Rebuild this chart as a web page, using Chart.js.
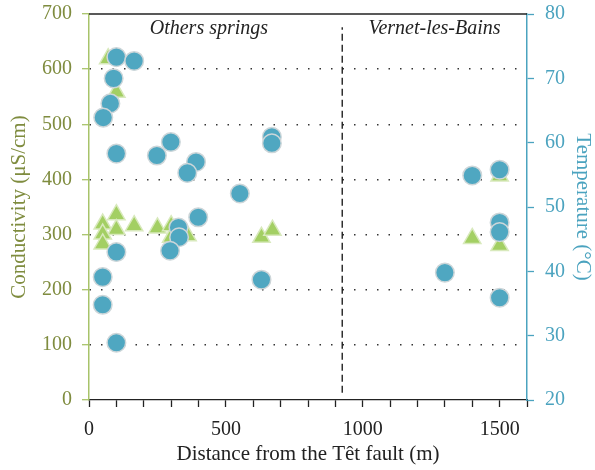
<!DOCTYPE html>
<html lang="en">
<head>
    <meta charset="UTF-8">
    <title>Conductivity and temperature vs distance</title>
    <script src="https://cdn.jsdelivr.net/npm/chart.js"></script>
    <style>
        body { margin: 0; background: #fff; }
        #wrap { width: 595px; height: 470px; }
    </style>
</head>
<body>
    <div id="wrap">
        <canvas id="grafico" width="595" height="470"></canvas>
    </div>

    <script>
        // conductivity samples (triangles, left axis)
        const condDistance = [70, 100, 50, 100, 100, 50, 50, 165, 250, 300, 300, 360, 630, 670, 1400, 1500, 1500];
        const condValue    = [619, 558, 319, 336, 309, 301, 283, 316, 312, 316, 295, 298, 295, 308, 293, 280, 406];

        // temperature samples (circles, right axis)
        const tempDistance = [100, 165, 90, 78, 52, 100, 248, 299, 391, 359, 551, 668, 668, 327, 329, 399, 296, 100, 50, 50, 100, 630, 1400, 1500, 1500, 1500, 1300, 1500];
        const tempValue    = [73.3, 72.7, 70.0, 66.1, 63.9, 58.3, 58.0, 60.1, 57.0, 55.3, 52.1, 60.9, 59.9, 46.8, 45.3, 48.4, 43.2, 43.0, 39.1, 34.8, 28.9, 38.7, 54.9, 55.8, 47.6, 46.1, 39.8, 35.9];

        // boundary between the two zones
        const faultLineX = [925, 925];
        const faultLineY = [13, 676];

        // zone labels: [text, x value, conductivity value]
        const zoneLabels = [
            ['Others springs', 438, 673],
            ['Vernet-les-Bains', 1262, 673]
        ];

        const xTicksLabelled = [0, 500, 1000, 1500];

        const verde = '#7f8c3f';
        const verdeEixo = '#a8c36a';
        const azul = '#4ba3bf';

        function pontos(xs, ys) {
            return xs.map((x, i) => ({ x: x, y: ys[i] }));
        }

        // fixed axis box size, no extra padding from tick labels
        function tamanho(s, w, h) {
            if (w) s.width = w;
            if (h) s.height = h;
            s.paddingTop = 0;
            s.paddingBottom = 0;
            s.paddingLeft = 0;
            s.paddingRight = 0;
        }

        Chart.defaults.font.family = "'Liberation Serif', 'DejaVu Serif', serif";
        Chart.defaults.font.size = 20;

        // top frame line + zone labels
        const extras = {
            id: 'extras',
            afterDatasetsDraw(chart) {
                const { ctx, chartArea } = chart;
                ctx.save();
                ctx.strokeStyle = '#222';
                ctx.lineWidth = 1.3;
                ctx.beginPath();
                ctx.moveTo(chartArea.left, chartArea.top);
                ctx.lineTo(chartArea.right, chartArea.top);
                ctx.stroke();

                ctx.fillStyle = '#222';
                ctx.font = "italic 20px 'Liberation Serif', serif";
                ctx.textAlign = 'center';
                ctx.textBaseline = 'middle';
                zoneLabels.forEach(l => {
                    ctx.fillText(l[0], chart.scales.x.getPixelForValue(l[1]), chart.scales.y.getPixelForValue(l[2]));
                });
                ctx.restore();
            }
        };

        new Chart(document.getElementById('grafico'), {
            type: 'scatter',
            data: {
                datasets: [
                    {
                        label: 'Temperature',
                        data: pontos(tempDistance, tempValue),
                        yAxisID: 'y1',
                        pointStyle: 'circle',
                        pointRadius: 9.3,
                        pointBackgroundColor: '#4fa7c1',
                        pointBorderColor: '#cdd6d9',
                        pointBorderWidth: 1.5,
                        order: 0
                    },
                    {
                        label: 'Conductivity',
                        data: pontos(condDistance, condValue),
                        yAxisID: 'y',
                        pointStyle: 'triangle',
                        pointRadius: 10,
                        pointBackgroundColor: '#a3cf63',
                        pointBorderColor: '#d8e9bc',
                        pointBorderWidth: 1.5,
                        order: 1
                    },
                    {
                        label: 'limite',
                        data: pontos(faultLineX, faultLineY),
                        yAxisID: 'y',
                        showLine: true,
                        pointRadius: 0,
                        borderColor: '#111',
                        borderWidth: 1.3,
                        borderDash: [7, 4],
                        order: 2
                    }
                ]
            },
            options: {
                responsive: false,
                animation: false,
                layout: { padding: { top: 14 } },
                plugins: {
                    legend: { display: false },
                    tooltip: { enabled: false }
                },
                scales: {
                    x: {
                        type: 'linear',
                        min: 0,
                        max: 1600,
                        afterFit: s => tamanho(s, 0, 70),
                        border: { color: '#222', width: 1.3 },
                        grid: { drawOnChartArea: false, tickLength: 7, tickColor: '#222', tickWidth: 1.3 },
                        ticks: {
                            stepSize: 100,
                            autoSkip: false,
                            maxRotation: 0,
                            padding: 11,
                            color: '#222',
                            callback: v => xTicksLabelled.includes(v) ? String(v) : ''
                        },
                        title: {
                            display: true,
                            text: 'Distance from the Têt fault (m)',
                            color: '#222',
                            font: { size: 21 },
                            padding: { top: 0, bottom: 3 }
                        }
                    },
                    y: {
                        position: 'left',
                        min: 0,
                        max: 700,
                        afterFit: s => tamanho(s, 89, 0),
                        border: { color: verdeEixo, width: 1.5, dash: [1.5, 10] },
                        grid: {
                            color: c => (c.tick.value === 0 || c.tick.value === 700) ? 'rgba(0,0,0,0)' : '#333',
                            lineWidth: 1.4,
                            tickLength: 7,
                            tickColor: verdeEixo,
                            tickWidth: 1.3,
                            tickBorderDash: []
                        },
                        ticks: { stepSize: 100, padding: 10, color: verde },
                        title: {
                            display: true,
                            text: 'Conductivity (μS/cm)',
                            color: verde,
                            font: { size: 21 },
                            padding: { top: 7, bottom: 0 }
                        }
                    },
                    y1: {
                        position: 'right',
                        min: 20,
                        max: 80,
                        afterFit: s => tamanho(s, 68, 0),
                        border: { color: azul, width: 1.5 },
                        grid: { drawOnChartArea: false, tickLength: 7, tickColor: azul, tickWidth: 1.3 },
                        ticks: { stepSize: 10, padding: 11, color: azul },
                        title: {
                            display: true,
                            text: 'Temperature (°C)',
                            color: azul,
                            font: { size: 21 },
                            padding: { top: 0, bottom: 0 }
                        }
                    }
                }
            },
            plugins: [extras]
        });
    </script>
</body>
</html>
